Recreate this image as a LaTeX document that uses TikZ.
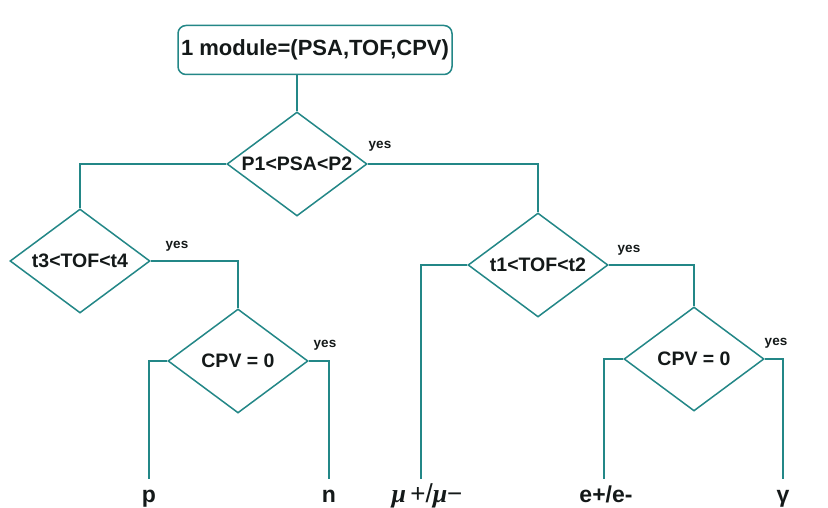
\documentclass[tikz,border=0pt]{standalone}
\usepackage{fontspec}
\setmainfont{Liberation Sans}
\newfontfamily\symf{Liberation Serif}
\usetikzlibrary{shapes.geometric}
\definecolor{lineteal}{RGB}{35,135,135}
\definecolor{inkdark}{RGB}{20,25,25}
\tikzset{
  conn/.style={draw=lineteal, line width=1.5pt},
  startbox/.style={draw=lineteal, line width=1.5pt, rounded corners=8pt, fill=white,
    minimum width=274pt, minimum height=49pt, inner sep=0pt, text=inkdark,
    font=\bfseries\fontsize{22}{22}\selectfont},
  decision/.style={diamond, draw=lineteal, line width=1.5pt, fill=white, aspect=1.35,
    minimum width=140pt, minimum height=104pt, inner sep=0pt, text=inkdark,
    font=\bfseries\fontsize{19.5}{19.5}\selectfont},
  yeslab/.style={inner sep=0pt, text=inkdark, font=\bfseries\fontsize{13.5}{13.5}\selectfont},
  leaf/.style={anchor=north, inner sep=0pt, text height=23pt, text depth=6pt, text=inkdark,
    font=\bfseries\fontsize{23}{23}\selectfont},
}
\begin{document}
\begin{tikzpicture}[x=1pt,y=-1pt]
\useasboundingbox[fill=white] (0,0) rectangle (828,508);
% nodes
\node[startbox] (top) at (315,50) {1 module=(PSA,TOF,CPV)};
\node[decision] (d1) at (297,164) {P1<PSA<P2};
\node[decision] (d3) at (80,261) {t3<TOF<t4};
\node[decision] (c1) at (238,361) {CPV = 0};
\node[decision] (d2) at (538,265) {t1<TOF<t2};
\node[decision] (c2) at (694,359) {CPV = 0};
% yes labels
\node[yeslab] (y1) at (380,146) {yes};
\node[yeslab] (y3) at (177,246) {yes};
\node[yeslab] (y4) at (325,345) {yes};
\node[yeslab] (y2) at (629,250) {yes};
\node[yeslab] (y5) at (776,343) {yes};
% leaves
\node[leaf] (p) at (149,479) {p};
\node[leaf] (n) at (329,479) {n};
\node[leaf, font=\bfseries\fontsize{26}{26}\selectfont] (mu) at (427,479) {{\symf\itshape μ}{\mdseries\,+/}{\symf\itshape μ}{\mdseries −}};
\node[leaf] (e) at (606,479) {e+/e-};
\node[leaf] (g) at (783,479) {γ};
% connectors
\draw[conn] (d1.north |- top.south) -- (d1.north);
\draw[conn] (d1.west) -| (d3.north);
\draw[conn] (d1.east) -| (d2.north);
\draw[conn] (d3.east) -| (c1.north);
\draw[conn] (c1.west) -| (p.north);
\draw[conn] (c1.east) -| (n.north);
\draw[conn] (d2.west) -| ([xshift=-6pt]mu.north);
\draw[conn] (d2.east) -| (c2.north);
\draw[conn] (c2.west) -| ([xshift=-2pt]e.north);
\draw[conn] (c2.east) -| (g.north);
\end{tikzpicture}
\end{document}
